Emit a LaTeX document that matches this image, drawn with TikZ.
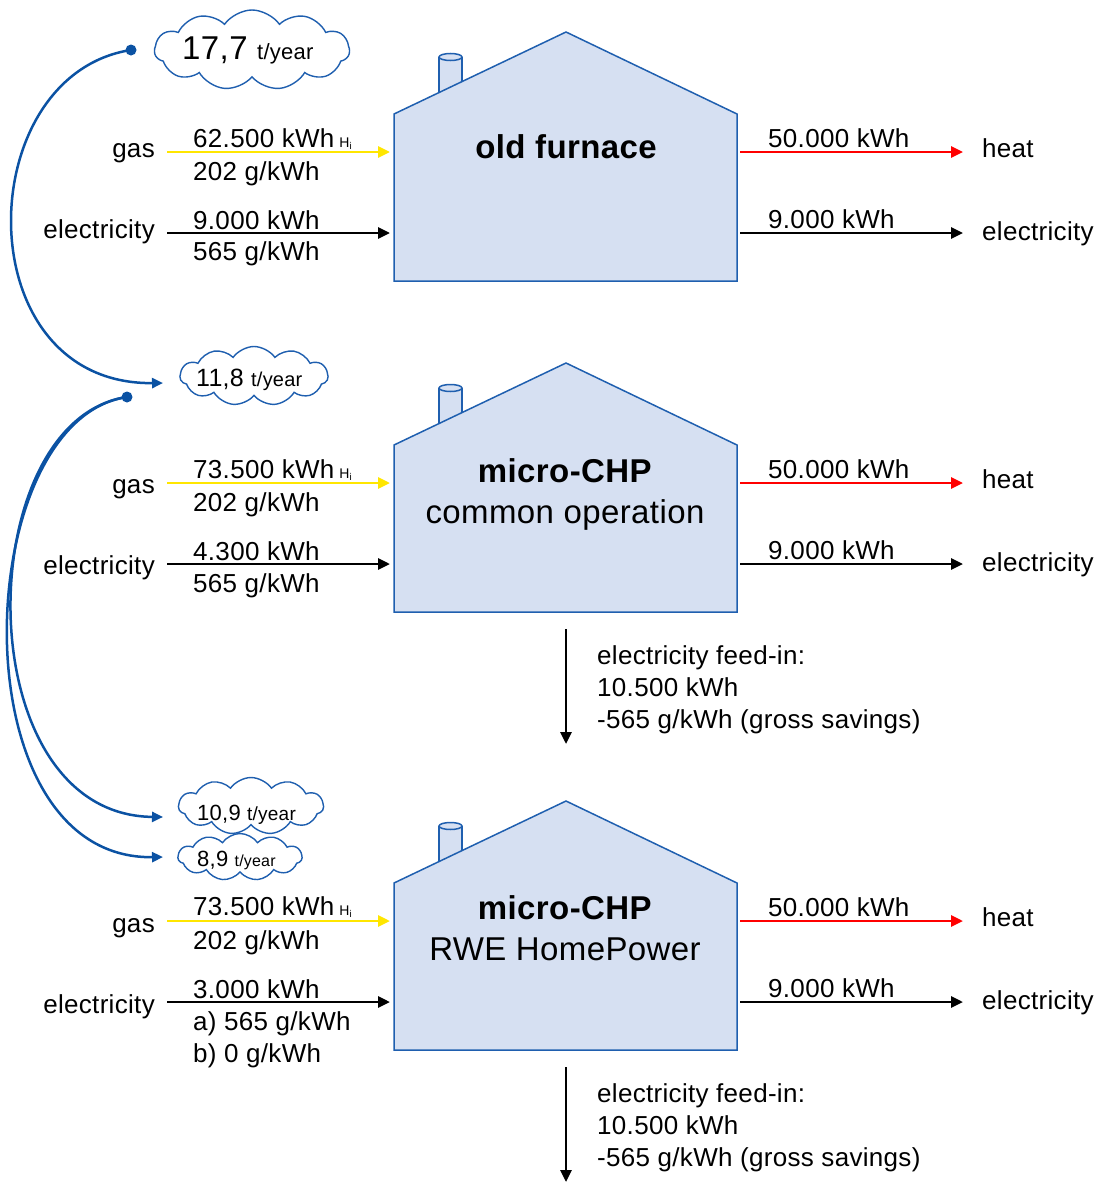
\documentclass[tikz,border=0pt]{standalone}
\usepackage{fontspec}
\setmainfont{Liberation Sans}[LetterSpace=1.2]
\usetikzlibrary{shapes.symbols,arrows.meta}
\definecolor{houseblue}{HTML}{1F5FAF}
\definecolor{housefill}{HTML}{D6E0F2}
\definecolor{arcblue}{HTML}{0B52A3}
\definecolor{gasyellow}{HTML}{FFE600}
\newcommand{\sizept}[1]{\fontsize{#1}{#1}\selectfont}
\newcommand{\hi}{\hspace{5pt}{\sizept{14}H\textsubscript{i}}}
\tikzset{
  house/.style={draw=houseblue, fill=housefill, line width=1.5pt, line join=miter},
  flow/.style={line width=2.8pt, -{Triangle[length=12pt,width=11pt]}},
  txt/.style={inner sep=0pt, font=\sizept{26}},
  title/.style={inner sep=0pt, align=center, font=\fontsize{33}{41}\selectfont},
  puff/.style={cloud, cloud puffs=11, cloud puff arc=110, cloud ignores aspect, draw=houseblue, fill=white, line width=1.4pt, inner sep=0pt},
  co2arc/.style={draw=arcblue, line width=2.5pt, -{Triangle[length=11pt,width=10pt]}},
  dot/.style={circle, fill=arcblue, inner sep=0pt, minimum size=11pt}
}
\begin{document}
\begin{tikzpicture}[x=1pt, y=-1pt]
      \useasboundingbox (0,0) rectangle (1098,1183);

      % Houses with the flows that are the same in all three
      \foreach \i/\y/\d in {1/0/0, 2/331/5, 3/769/6} {
        \begin{scope}[yshift=-\y pt]
          % chimney
          \draw[house] (439,57) -- (439,100) -- (462,100) -- (462,57);
          \draw[house] (450.5,57) ellipse [x radius=11.5, y radius=3.5];
          % outline
          \draw[house] (394,281) -- (394,114) -- (566,32) -- (737,114) -- (737,281) -- cycle;

          % inputs
          \node[txt, anchor=base east] (gas\i) at (155,157+\d) {gas};
          \node[txt, anchor=base east] (elin\i) at (155,238+\d) {electricity};
          \node[txt, anchor=base west] (gasco\i) at (193,180) {202 g/kWh};
          \coordinate (gasa\i) at (167,152);
          \coordinate (gasb\i) at (390,152);
          \coordinate (elina\i) at (167,233);
          \coordinate (elinb\i) at (390,233);
          \draw[flow, gasyellow] (gasa\i) -- (gasb\i);
          \draw[flow, black] (elina\i) -- (elinb\i);

          % outputs
          \node[txt, anchor=base west] (heatkwh\i) at (768,147) {50.000 kWh};
          \node[txt, anchor=base west] (elkwh\i) at (768,228) {9.000 kWh};
          \node[txt, anchor=base west] (heat\i) at (982,157) {heat};
          \node[txt, anchor=base west] (elout\i) at (982,240) {electricity};
          \coordinate (heata\i) at (740,152);
          \coordinate (heatb\i) at (963,152);
          \coordinate (elouta\i) at (740,233);
          \coordinate (eloutb\i) at (963,233);
          \draw[flow, red] (heata\i) -- (heatb\i);
          \draw[flow, black] (elouta\i) -- (eloutb\i);
        \end{scope}
      }

      % Feed-in of the micro-CHP houses
      \foreach \i/\y in {2/331, 3/769} {
        \begin{scope}[yshift=-\y pt]
          \coordinate (feeda\i) at (566,298);
          \coordinate (feedb\i) at (566,413);
          \draw[flow, black] (feeda\i) -- (feedb\i);
          \node[txt, anchor=base west] (feed\i) at (597,333) {electricity feed-in:};
          \node[txt, anchor=base west] (feedkwh\i) at (597,365) {10.500 kWh};
          \node[txt, anchor=base west] (feedco\i) at (597,397) {-565 g/kWh (gross savings)};
        \end{scope}
      }

      % House specific texts
      \node[title, font=\bfseries\sizept{33}] (name1) at (566,147) {old furnace};
      \node[txt, anchor=base west] (gaskwh1) at (193,147) {62.500 kWh\hi};
      \node[txt, anchor=base west] (elinkwh1) at (193,229) {9.000 kWh};
      \node[txt, anchor=base west] (elinco1) at (193,260) {565 g/kWh};

      \node[title] (name2) at (565,494) {\textbf{micro-CHP}\\common operation};
      \node[txt, anchor=base west] (gaskwh2) at (193,478) {73.500 kWh\hi};
      \node[txt, anchor=base west] (elinkwh2) at (193,560) {4.300 kWh};
      \node[txt, anchor=base west] (elinco2) at (193,592) {565 g/kWh};

      \node[title] (name3) at (565,928) {\textbf{micro-CHP}\\RWE HomePower};
      \node[txt, anchor=base west] (gaskwh3) at (193,915) {73.500 kWh\hi};
      \node[txt, anchor=base west] (elinkwh3) at (193,998) {3.000 kWh};
      \node[txt, anchor=base west] (elinco3a) at (193,1030) {a) 565 g/kWh};
      \node[txt, anchor=base west] (elinco3b) at (193,1062) {b) 0 g/kWh};

      % CO2 clouds
      \node[puff, minimum width=195pt, minimum height=80pt] (cloud1) at (252,50) {};
      \node[puff, minimum width=148pt, minimum height=59pt] (cloud2) at (254,376) {};
      \node[puff, minimum width=145pt, minimum height=57pt] (cloud3) at (251,806) {};
      \node[puff, minimum width=124pt, minimum height=47pt] (cloud4) at (240,857) {};
      \node[inner sep=0pt, anchor=base west] (co2a) at (182,59) {\sizept{33}17,7 \sizept{22}t/year};
      \node[inner sep=0pt, anchor=base west] (co2b) at (196,386) {\sizept{25}11,8 \sizept{20}t/year};
      \node[inner sep=0pt, anchor=base west] (co2c) at (197,820) {\sizept{22}10,9 \sizept{19}t/year};
      \node[inner sep=0pt, anchor=base west] (co2d) at (197,866) {\sizept{22}8,9 \sizept{16}t/year};

      % Comparison arcs
      \node[dot] (dot1) at (131,50) {};
      \node[dot] (dot2) at (127,397) {};
      \coordinate (tip1) at (163,383);
      \coordinate (tip2) at (163,817);
      \coordinate (tip3) at (163,857);
      \draw[co2arc] (dot1.center) .. controls (-30,75) and (-35,385) .. (tip1);
      \draw[co2arc] (dot2.center) .. controls (-30,420) and (-35,815) .. (tip2);
      \draw[co2arc] (dot2.center) .. controls (-30,420) and (-45,860) .. (tip3);
    \end{tikzpicture}
\end{document}
